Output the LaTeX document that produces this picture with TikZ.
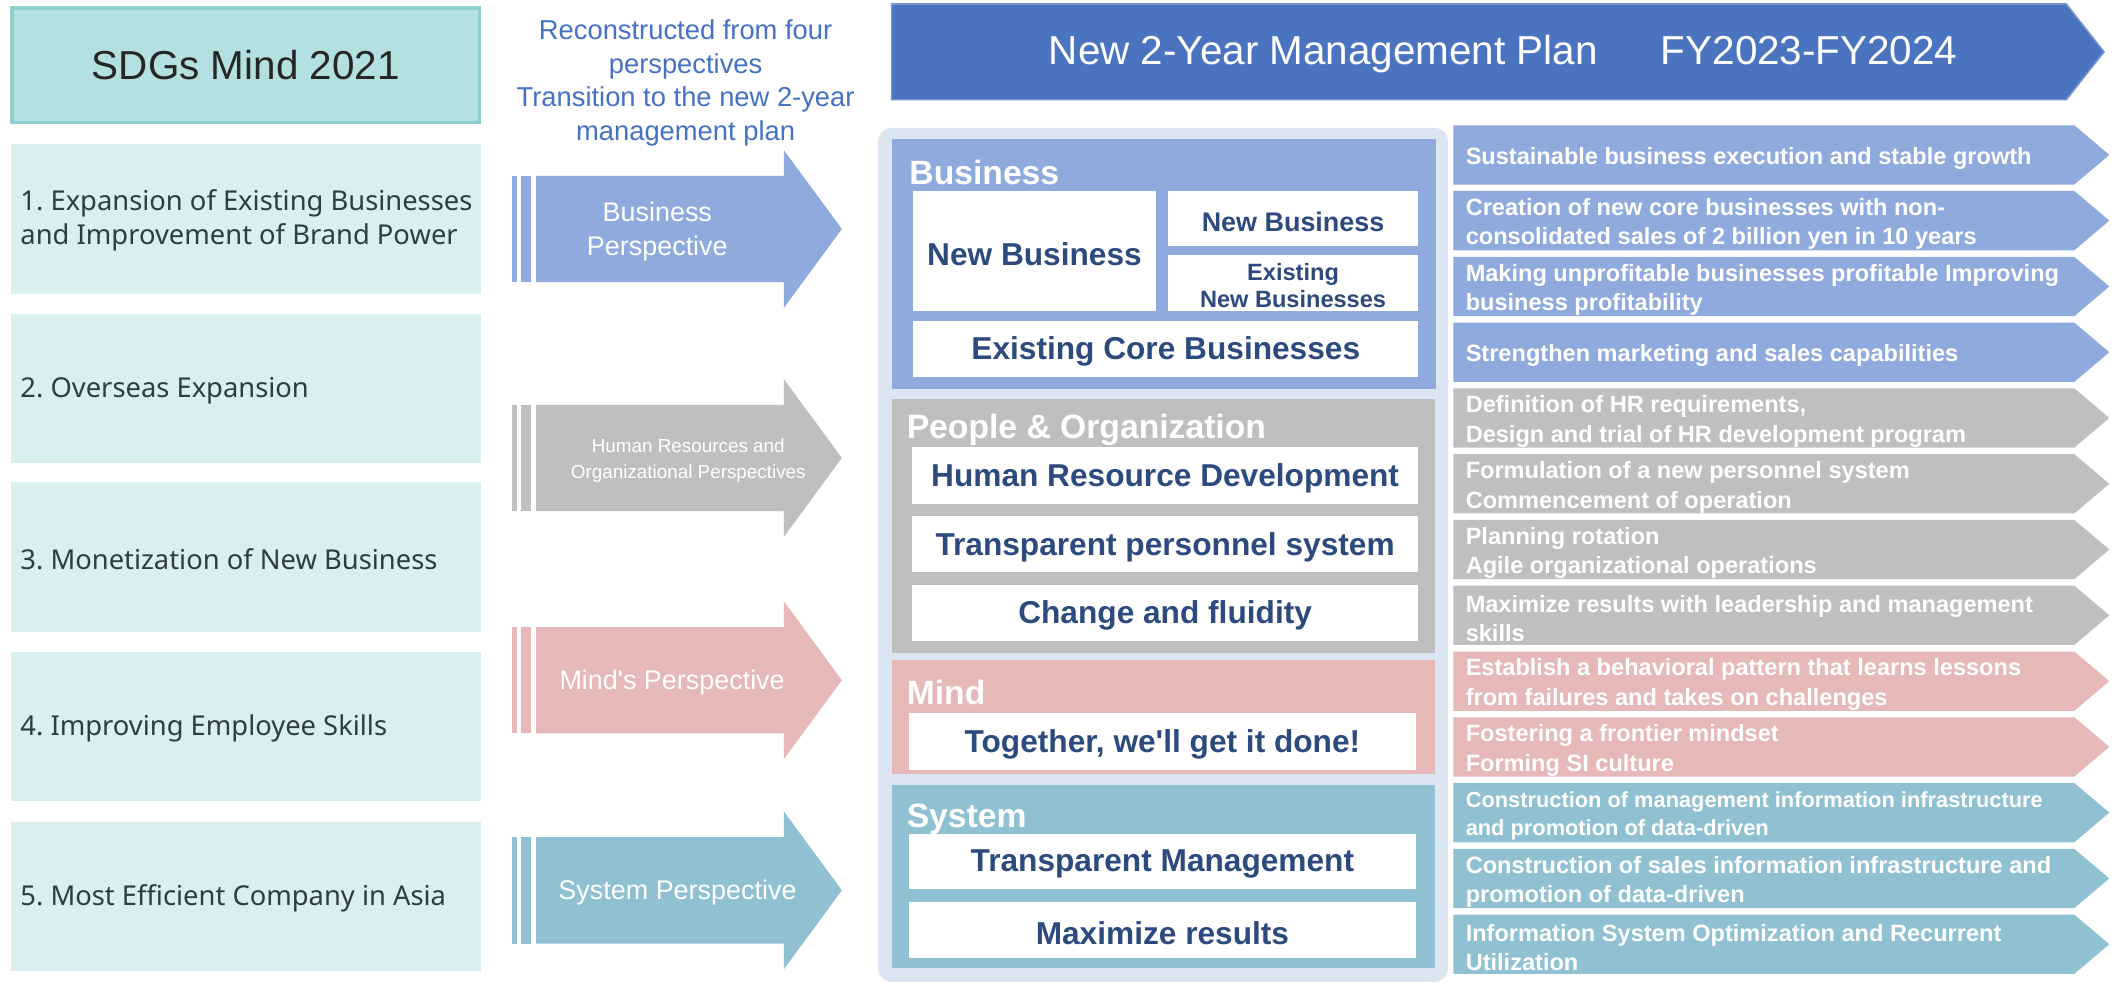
\documentclass[tikz,border=0pt]{standalone}
\usepackage{fontspec}
\setmainfont[Ligatures=TeXOff]{Liberation Sans}
\newfontfamily\notofont{Noto Sans}
\frenchspacing
\definecolor{hdrfill}{HTML}{B3E0E1}
\definecolor{hdrborder}{HTML}{8ECFD0}
\definecolor{itemfill}{HTML}{DAEFF0}
\definecolor{itemtext}{HTML}{2F3C42}
\definecolor{titleblue}{HTML}{4472C4}
\definecolor{bizblue}{HTML}{8FAADC}
\definecolor{hrgrey}{HTML}{BFBFBF}
\definecolor{mindpink}{HTML}{E6B8B7}
\definecolor{systeal}{HTML}{8FC1D3}
\definecolor{bannerblue}{HTML}{4A73C0}
\definecolor{bannerline}{HTML}{7894D0}
\definecolor{panelbg}{HTML}{DCE6F2}
\definecolor{navy}{HTML}{2D4A7F}
\newcommand\fsz[2]{\fontsize{#1}{#2}\selectfont}
\tikzset{
  itembox/.style={fill=itemfill, minimum width=349pt, minimum height=111pt, inner sep=0pt},
  itemtxt/.style={anchor=west, inner sep=0pt, align=left, text=itemtext, font={\notofont\fsz{20.3}{25}}},
  pertext/.style={text=white, align=center, inner sep=0pt},
  section/.style={inner sep=0pt},
  sectitle/.style={anchor=west, inner sep=0pt, yshift=-2pt, text=white, font={\bfseries\fsz{25}{30}}},
  wbox/.style={fill=white, inner sep=0pt, align=center, text=navy, font={\bfseries\fsz{23.5}{28}}},
  wtext/.style={inner sep=0pt, align=center, text=navy, font={\bfseries\fsz{23.5}{28}}},
  rtext/.style={anchor=west, inner sep=5pt, yshift=-2.5pt, text=white, align=left}
}
% y-centre, colour, name, text, text x, font
\newcommand\PerArrow[6]{%
  \fill[#2] (380,#1-39.5) rectangle (384,#1+39.5);
  \fill[#2] (387,#1-39.5) rectangle (394,#1+39.5);
  \fill[#2] (398,#1-39.5) -- (582,#1-39.5) -- (582,#1-58.5) -- (625,#1) -- (582,#1+58.5) -- (582,#1+39.5) -- (398,#1+39.5) -- cycle;
  \node[pertext, font={#6}] (#3) at (#5,#1+2) {#4};
}
% top, colour, name, text, font
\newcommand\RArrow[5]{%
  \fill[#2] (1079,#1) -- (1540,#1) -- (1566,#1+22) -- (1540,#1+44) -- (1079,#1+44) -- cycle;
  \node[rtext, font={\bfseries#5}] (#3) at (1083,#1+22) {#4};
}
% name, centre x, centre y, width, height, text, font
\newcommand\WBox[7]{%
  \node[wbox, minimum width=#4pt, minimum height=#5pt] (#1) at (#2,#3) {};
  \node[wtext, font={\bfseries#7}] (#1txt) at (#2,#3+2) {#6};
}
\begin{document}
\begin{tikzpicture}[x=1pt,y=-1pt]
\useasboundingbox (0,0) rectangle (1568,733);
\fill[white] (0,0) rectangle (1568,733);

% ---------- left column ----------
\node[draw=hdrborder, line width=2.5pt, fill=hdrfill, minimum width=347pt, minimum height=85pt, inner sep=0pt,
      text=black!85, font=\fsz{30}{36}] (sdg) at (182.5,48.5) {SDGs Mind 2021};
\node[itembox] (it1) at (182.5,162.5) {};
\node[itembox] (it2) at (182.5,288.5) {};
\node[itembox] (it3) at (182.5,413.5) {};
\node[itembox] (it4) at (182.5,539.5) {};
\node[itembox] (it5) at (182.5,665.5) {};
\node[itemtxt] (t1) at (15,163.5) {1. Expansion of Existing Businesses\\and Improvement of Brand Power};
\node[itemtxt] (t2) at (15,290) {2. Overseas Expansion};
\node[itemtxt] (t3) at (15,415) {3. Monetization of New Business};
\node[itemtxt] (t4) at (15,541) {4. Improving Employee Skills};
\node[itemtxt] (t5) at (15,667) {5. Most Efficient Company in Asia};

% ---------- middle heading ----------
\node[align=center, inner sep=0pt, text=titleblue, font=\fsz{20.3}{25}] (recon) at (509,61.5)
  {Reconstructed from four\\perspectives\\Transition to the new 2-year\\management plan};

% ---------- perspective arrows ----------
\PerArrow{170}{bizblue}{pbiz}{Business\\Perspective}{488}{\fsz{20}{25}}
\PerArrow{340}{hrgrey}{phr}{Human Resources and\\Organizational Perspectives}{511}{\fsz{14}{19}}
\PerArrow{505}{mindpink}{pmind}{Mind's Perspective}{499}{\fsz{20}{25}}
\PerArrow{661}{systeal}{psys}{System Perspective}{503}{\fsz{20}{25}}

% ---------- banner ----------
\fill[bannerblue, draw=bannerline, line width=1.2pt] (662,3) -- (1534,3) -- (1562,38.5) -- (1534,74) -- (662,74) -- cycle;
\node[inner sep=0pt, text=white, font=\fsz{30}{34}] (banner) at (1116,40)
  {New 2-Year Management Plan\hspace{47pt}FY2023-FY2024};

% ---------- central panel ----------
\node[fill=panelbg, rounded corners=10pt, minimum width=423pt, minimum height=634pt, inner sep=0pt] (panel) at (863.5,412) {};

\node[section, fill=bizblue, minimum width=404pt, minimum height=186pt] (secbiz) at (864,196) {};
\node[sectitle] (tbiz) at (675,126) {Business};
\WBox{nbbig}{768}{186.5}{180}{89}{New Business}{\fsz{23.5}{28}}
\WBox{nbsmall}{960}{162.5}{186}{41}{New Business}{\fsz{20}{24}}
\WBox{enb}{960}{210}{186}{42}{Existing\\New Businesses}{\fsz{17.5}{20}}
\WBox{ecb}{865.5}{259}{375}{42}{Existing Core Businesses}{\fsz{23.5}{28}}

\node[section, fill=hrgrey, minimum width=403pt, minimum height=189pt] (sechr) at (863.5,390.5) {};
\node[sectitle] (thr) at (673,317) {People \& Organization};
\WBox{hrd}{865}{353}{376}{42}{Human Resource Development}{\fsz{23.5}{28}}
\WBox{tps}{865}{404}{376}{42}{Transparent personnel system}{\fsz{23.5}{28}}
\WBox{chf}{865}{455}{376}{42}{Change and fluidity}{\fsz{23.5}{28}}

\node[section, fill=mindpink, minimum width=403pt, minimum height=85pt] (secmind) at (863.5,532.5) {};
\node[sectitle] (tmind) at (673,512) {Mind};
\WBox{tog}{863}{550.5}{376}{43}{Together, we'll get it done!}{\fsz{23.5}{28}}

\node[section, fill=systeal, minimum width=403pt, minimum height=136pt] (secsys) at (863.5,651) {};
\node[sectitle] (tsys) at (673,606) {System};
\WBox{tm}{863}{639.5}{376}{41}{Transparent Management}{\fsz{23.5}{28}}
\WBox{mr}{863}{690.5}{376}{41}{Maximize results}{\fsz{23.5}{28}}

% ---------- right arrows ----------
\RArrow{93}{bizblue}{r1}{Sustainable business execution and stable growth}{\fsz{17.5}{22}}
\RArrow{141.8}{bizblue}{r2}{Creation of new core businesses with non-\\consolidated sales of 2 billion yen in 10 years}{\fsz{17.5}{22}}
\RArrow{190.7}{bizblue}{r3}{Making unprofitable businesses profitable Improving\\business profitability}{\fsz{17.5}{22}}
\RArrow{239.5}{bizblue}{r4}{Strengthen marketing and sales capabilities}{\fsz{17.5}{22}}
\RArrow{288.3}{hrgrey}{r5}{Definition of HR requirements,\\Design and trial of HR development program}{\fsz{17.5}{22}}
\RArrow{337.2}{hrgrey}{r6}{Formulation of a new personnel system\\Commencement of operation}{\fsz{17.5}{22}}
\RArrow{386}{hrgrey}{r7}{Planning rotation\\Agile organizational operations}{\fsz{17.5}{22}}
\RArrow{434.8}{hrgrey}{r8}{Maximize results with leadership and management\\skills}{\fsz{17.5}{22}}
\RArrow{483.7}{mindpink}{r9}{Establish a behavioral pattern that learns lessons\\from failures and takes on challenges}{\fsz{17.5}{22}}
\RArrow{532.5}{mindpink}{r10}{Fostering a frontier mindset\\Forming SI culture}{\fsz{17.5}{22}}
\RArrow{581.3}{systeal}{r11}{Construction of management information infrastructure\\and promotion of data-driven}{\fsz{16.2}{21}}
\RArrow{630.2}{systeal}{r12}{Construction of sales information infrastructure and\\promotion of data-driven}{\fsz{17.5}{22}}
\RArrow{679}{systeal}{r13}{Information System Optimization and Recurrent\\Utilization}{\fsz{17.5}{22}}
\end{tikzpicture}
\end{document}
